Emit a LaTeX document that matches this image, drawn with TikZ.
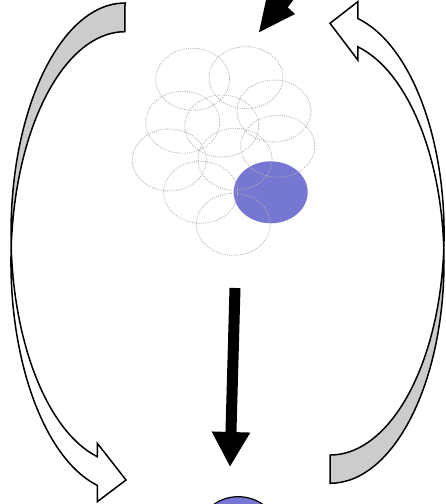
\documentclass[tikz,border=0pt]{standalone}
\usepackage{xcolor}
\definecolor{cellblue}{RGB}{118,118,211}
\definecolor{bandgray}{RGB}{204,204,204}
\definecolor{ringgray}{RGB}{175,175,175}
\usepackage{tikz}
\usetikzlibrary{arrows.meta, positioning, shapes.geometric}

\begin{document}
\begin{tikzpicture}[x=1pt, y=1pt,
    dotring/.style={ellipse, draw=ringgray, line width=0.9pt, dash pattern=on 0.9pt off 1.3pt,
                    minimum width=74pt, minimum height=62pt, inner sep=0pt},
    cell/.style={ellipse, fill=cellblue, minimum width=74pt, minimum height=62pt, inner sep=0pt},
    bandline/.style={draw=black, line width=1.5pt, line join=miter},
    bigarrow/.style={line width=11pt, -{Triangle[width=36pt, length=35pt]}}]
  \useasboundingbox (0,0) rectangle (446,504);
  \clip (0,0) rectangle (446,504);

  % --- Cluster of cells ---
  \node[cell] (hit) at (270.7,311.7) {};
  \node[dotring] (r1)  at (192.7,424.7) {};
  \node[dotring] (r2)  at (246.0,426.3) {};
  \node[dotring] (r3)  at (274.0,393.0) {};
  \node[dotring] (r4)  at (182.7,381.7) {};
  \node[dotring] (r5)  at (221.7,378.0) {};
  \node[dotring] (r6)  at (277.7,357.7) {};
  \node[dotring] (r7)  at (169.3,344.0) {};
  \node[dotring] (r8)  at (235.0,344.7) {};
  \node[dotring] (r9)  at (200.7,311.7) {};
  \node[dotring] (r10) at (233.3,279.7) {};

  % --- Picked cell at the bottom ---
  \node[cell, draw=black, line width=1.2pt] (bot) at (238.3,-23.7) {};

  % --- Straight arrow down ---
  \coordinate (arrS) at (235,216);
  \coordinate (arrE) at (230,37);
  \draw[bigarrow] (arrS) -- (arrE);

  % --- Arrow coming in at the top ---
  \fill[black] (259,471.7) -- (295,490) -- (287.7,496.7) -- (306,520.5)
    -- (294.1,529.7) -- (275.8,505.9) -- (267.6,511.2) -- cycle;

  % --- Left curved arrow (down) ---
  \fill[bandgray] (125,501) arc[start angle=90, end angle=183.57, x radius=114pt, y radius=230.3pt]
    arc[start angle=176.43, end angle=90, x radius=114pt, y radius=230.3pt] -- cycle;
  \draw[bandline] (125,501) arc[start angle=90, end angle=255.94, x radius=114pt, y radius=230.3pt]
    -- (97.3,60.7) -- (126,24) -- (97.3,2.3) -- (97.3,18.6)
    arc[start angle=255.94, end angle=90, x radius=114pt, y radius=230.3pt] -- cycle;

  % --- Right curved arrow (up) ---
  \fill[bandgray] (330,20.7) arc[start angle=-90, end angle=3.66, x radius=114pt, y radius=221.6pt]
    arc[start angle=-3.66, end angle=-90, x radius=114pt, y radius=221.6pt] -- cycle;
  \draw[bandline] (330,20.7) arc[start angle=-90, end angle=75.91, x radius=114pt, y radius=221.6pt]
    -- (357.8,444) -- (330,480.7) -- (357.8,502.3) -- (357.8,485.5)
    arc[start angle=75.91, end angle=-90, x radius=114pt, y radius=221.6pt] -- cycle;
\end{tikzpicture}
\end{document}
